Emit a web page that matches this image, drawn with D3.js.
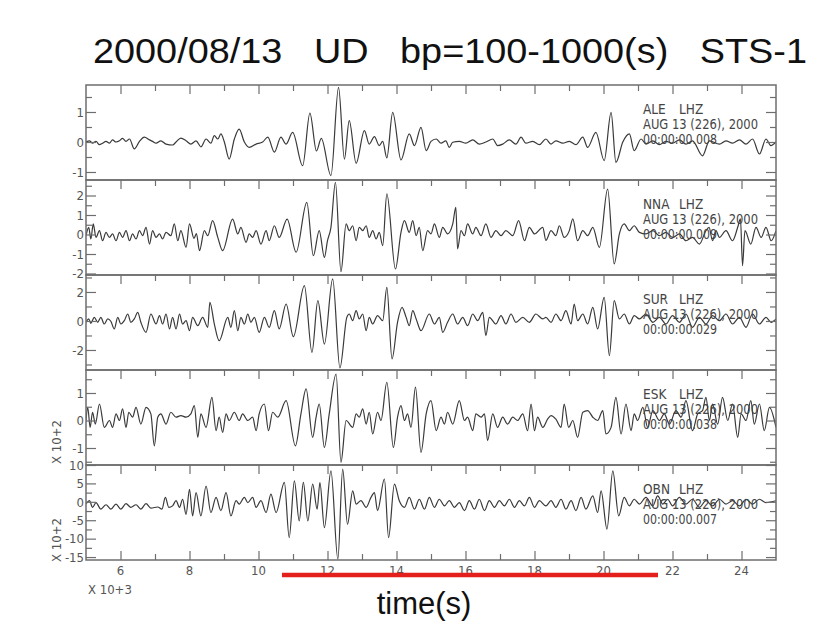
<!DOCTYPE html>
<html><head><meta charset="utf-8">
<script src="https://cdn.jsdelivr.net/npm/d3@7"></script>
<style>body{margin:0;background:#fff} svg{display:block}</style>
</head><body><svg id="c" width="830" height="632"></svg>
<script>
const titleText = "2000/08/13   UD   bp=100-1000(s)   STS-1";
const xLabel = "time(s)";
const xExponent = "X 10+3";
const xDomain = [5, 25];
const xLabelTicks = [6, 8, 10, 12, 14, 16, 18, 20, 22, 24];
const stations = ["ALE", "NNA", "SUR", "ESK", "OBN"];
const channel = "LHZ";
const dateText = "AUG 13 (226), 2000";
const startTimes = ["00:00:00.008", "00:00:00.009", "00:00:00.029", "00:00:00.038", "00:00:00.007"];
const yDomains = [[-1.267, 1.9], [-2.077, 2.795], [-3.38, 3.17], [-1.618, 1.836], [-15.8, 10]];
const yLabelTicks = [[-1, 0, 1], [-2, -1, 0, 1, 2], [-2, 0, 2], [-1, 0, 1], [-15, -10, -5, 0, 5, 10]];
const yMinorStep = [0.5, 0.5, 1, 0.5, 2.5];
const yExponent = [null, null, null, "X 10+2", "X 10+2"];
const redBar = [10.68, 21.58];

const aleTrace = [[5.00,0],[5.10,0.04],[5.19,-0.04],[5.29,0.02],[5.39,-0.09],[5.48,-0.04],[5.58,0.02],[5.68,-0.04],[5.77,0.07],[5.87,0],[5.97,0.04],[6.06,0.12],[6.16,0.02],[6.26,0.1],[6.40,-0.23],[6.55,0.02],[6.69,0.16],[6.84,0.07],[6.93,0.02],[7.03,-0.04],[7.17,0.04],[7.32,-0.07],[7.51,-0.1],[7.61,0],[7.75,0.13],[7.90,0.04],[8.04,-0.07],[8.19,0.04],[8.33,-0.16],[8.48,0.1],[8.62,-0.04],[8.72,0.21],[8.82,0.1],[8.91,0.27],[9.01,0],[9.15,-0.57],[9.30,0.1],[9.44,0.43],[9.59,0],[9.73,-0.18],[9.93,-0.07],[10.12,0],[10.27,0.16],[10.46,-0.34],[10.65,0.16],[10.80,-0.07],[10.99,0.32],[11.28,-0.79],[11.49,0.96],[11.68,-0.3],[11.82,0.12],[12.10,-1.12],[12.32,1.82],[12.49,-0.57],[12.63,0.71],[12.83,-0.71],[13.07,0.38],[13.21,-0.07],[13.36,0.18],[13.50,-0.12],[13.60,0.02],[13.72,-0.53],[13.89,0.99],[14.13,-0.6],[14.37,0.27],[14.52,-0.12],[14.71,0.49],[14.86,-0.29],[15.00,0.02],[15.15,0.1],[15.29,-0.04],[15.43,0.04],[15.53,-0.18],[15.63,-0.01],[15.82,0.02],[16.01,-0.04],[16.21,0.07],[16.40,-0.07],[16.59,0],[16.79,0.1],[16.93,-0.12],[17.08,-0.07],[17.27,0.07],[17.46,-0.07],[17.61,0.16],[17.75,-0.04],[17.95,0.02],[18.14,-0.09],[18.33,0.1],[18.48,-0.07],[18.62,0.04],[18.82,-0.04],[19.01,0.02],[19.20,-0.09],[19.40,0.16],[19.54,-0.18],[19.78,0.32],[20.02,-0.62],[20.22,0.99],[20.36,-0.68],[20.56,0],[20.75,0.27],[20.89,-0.29],[21.09,0.1],[21.23,-0.07],[21.43,0.04],[21.62,-0.09],[21.81,0.02],[22.00,-0.04],[22.20,0.07],[22.39,-0.07],[22.58,0.04],[22.87,-0.46],[23.07,0.04],[23.36,-0.07],[23.55,0.04],[23.74,-0.04],[23.94,0.07],[24.13,-0.07],[24.32,0.1],[24.52,-0.4],[24.71,0.1],[24.85,-0.12],[25.0,0]];

const nnaTrace = [[5.00,-0.06],[5.08,0.37],[5.14,-0.23],[5.21,0.54],[5.29,-0.15],[5.39,0.2],[5.48,-0.32],[5.58,0.11],[5.68,-0.15],[5.77,0.03],[5.87,-0.32],[5.97,0.11],[6.06,-0.15],[6.16,0.2],[6.26,-0.32],[6.35,0.03],[6.45,-0.23],[6.55,0.2],[6.64,-0.06],[6.74,0.37],[6.84,-0.49],[6.93,0.2],[7.03,-0.15],[7.13,0.03],[7.22,-0.23],[7.32,0.11],[7.46,-0.06],[7.56,0.54],[7.66,-0.32],[7.75,0.2],[7.90,-0.66],[8.00,0.54],[8.13,-0.2],[8.20,0.05],[8.29,-0.83],[8.43,0.2],[8.53,-0.06],[8.67,0.71],[8.82,-0.15],[8.96,-0.83],[9.25,0.79],[9.40,0.03],[9.49,0.37],[9.64,-0.4],[9.73,0.03],[9.83,-0.15],[9.93,0.2],[10.07,-0.49],[10.22,0.2],[10.31,-0.32],[10.46,0.45],[10.60,-0.15],[10.83,0.79],[11.09,-0.91],[11.40,1.65],[11.59,-1.09],[11.76,0.2],[11.91,-1.17],[12.00,-0.32],[12.10,0.37],[12.23,2.68],[12.39,-1.91],[12.54,0.54],[12.63,0.2],[12.73,0.45],[12.83,-0.32],[12.92,0.37],[13.02,0.2],[13.12,0.45],[13.21,-0.15],[13.31,0.2],[13.41,-0.23],[13.50,0.11],[13.60,-0.57],[13.72,2.08],[13.97,-1.77],[14.13,0.11],[14.23,0.71],[14.37,0.11],[14.47,0.71],[14.57,-0.06],[14.66,0.37],[14.76,-0.83],[14.90,0.2],[15.00,0.03],[15.10,0.54],[15.24,-0.15],[15.34,0.37],[15.48,0.03],[15.63,0.54],[15.72,1.39],[15.77,-0.74],[15.87,0.2],[15.97,-0.06],[16.06,0.54],[16.21,0.03],[16.30,0.37],[16.45,-0.06],[16.59,0.54],[16.74,-0.15],[16.88,0.2],[17.03,-0.06],[17.17,0.2],[17.37,-0.06],[17.54,0.71],[17.71,-0.32],[17.85,0.37],[18.00,0.03],[18.24,0.37],[18.33,-0.3],[18.48,0.2],[18.62,-0.06],[18.72,0.45],[18.86,-0.15],[19.01,0.2],[19.11,0.8],[19.25,-0.32],[19.40,0.2],[19.54,-0.06],[19.69,0.37],[19.88,-0.66],[20.12,2.33],[20.31,-1.51],[20.46,0.03],[20.60,0.54],[20.75,0.2],[20.89,0.45],[21.04,0.11],[21.23,0.03],[21.43,0.2],[21.62,-0.06],[21.81,0.11],[22.00,-0.15],[22.20,0.03],[22.39,-0.32],[22.58,-0.15],[22.78,-0.49],[22.97,0.2],[23.06,0.37],[23.16,-0.32],[23.26,0.2],[23.36,-0.15],[23.55,0.2],[23.74,-0.32],[23.89,0.37],[23.97,0.8],[24.03,-1.6],[24.10,0.2],[24.27,-0.49],[24.42,0.37],[24.57,-0.15],[24.71,0.37],[24.86,-0.32],[25.0,0.2]];

const surTrace = [[5.00,-0.09],[5.08,0.14],[5.14,-0.16],[5.24,0.25],[5.34,-0.09],[5.43,0.25],[5.53,-0.21],[5.63,0.14],[5.72,-0.02],[5.82,-0.55],[5.92,0.25],[6.01,-0.21],[6.11,0.02],[6.21,0.48],[6.30,-0.09],[6.40,0.14],[6.50,0.6],[6.59,-0.09],[6.74,-0.78],[6.88,0.48],[7.03,-0.21],[7.13,0.37],[7.22,-0.21],[7.32,0.48],[7.42,-0.55],[7.51,0.25],[7.61,-0.55],[7.71,0.48],[7.80,-0.21],[7.90,0.02],[8.00,-0.67],[8.09,0.25],[8.24,-0.32],[8.38,0.25],[8.53,-0.44],[8.59,1.29],[8.72,-0.21],[8.86,-1.36],[9.11,0.25],[9.20,-0.44],[9.30,0.71],[9.40,-0.67],[9.49,0.25],[9.59,-0.21],[9.69,0.48],[9.78,-0.09],[9.88,0.25],[10.02,-0.78],[10.17,0.25],[10.31,-0.44],[10.46,0.71],[10.60,-0.55],[10.80,1.17],[11.01,-1.08],[11.33,2.44],[11.55,-2.16],[11.72,1.4],[11.91,-1.59],[12.15,2.9],[12.36,-3.24],[12.56,0.25],[12.63,0.48],[12.73,0.02],[12.83,0.71],[12.92,0.14],[13.02,0.48],[13.12,-0.67],[13.21,0.25],[13.31,-0.21],[13.45,0.37],[13.60,0.02],[13.72,2.32],[13.87,-2.62],[14.03,-0.09],[14.16,0.94],[14.28,0.25],[14.37,-0.32],[14.47,0.71],[14.57,0.14],[14.71,-0.67],[14.95,0.48],[15.10,-0.21],[15.24,0.25],[15.34,-0.78],[15.48,-0.09],[15.63,0.48],[15.77,-0.21],[15.92,0.25],[16.06,-0.32],[16.21,0.48],[16.35,0.02],[16.50,0.6],[16.59,-1.01],[16.69,0.25],[16.88,-0.21],[17.03,0.37],[17.17,-0.21],[17.32,0.48],[17.46,-0.09],[17.66,0.25],[17.85,-0.09],[18.04,0.48],[18.24,0.14],[18.33,0.25],[18.48,-0.09],[18.62,0.48],[18.77,0.02],[18.91,0.71],[19.06,-0.21],[19.15,1.17],[19.25,0.02],[19.40,0.48],[19.54,-0.21],[19.69,0.94],[19.83,-0.55],[20.02,1.63],[20.17,-2.39],[20.31,1.4],[20.46,0.14],[20.60,0.48],[20.75,-0.21],[20.89,0.37],[21.04,0.14],[21.23,0.48],[21.43,-0.09],[21.62,0.25],[21.81,-0.21],[22.00,0.37],[22.20,-0.09],[22.39,0.48],[22.58,-0.44],[22.78,0.25],[22.97,-0.21],[23.16,0.37],[23.36,0.02],[23.55,0.48],[23.74,-0.21],[23.94,0.25],[24.13,-0.44],[24.32,0.48],[24.52,-0.21],[24.71,0.25],[24.86,-0.09],[25.0,0.14]];

const eskTrace = [[5.00,0],[5.05,0.48],[5.12,-0.25],[5.19,0.3],[5.27,-0.13],[5.39,0.6],[5.53,-0.25],[5.68,0],[5.77,-0.25],[5.87,0.24],[5.97,0],[6.06,0.42],[6.16,-0.25],[6.24,0.3],[6.35,0.12],[6.45,0.48],[6.59,-0.13],[6.74,0.48],[6.88,0.24],[6.98,-0.92],[7.08,0.12],[7.17,0.24],[7.32,-0.13],[7.46,0.3],[7.61,0.12],[7.75,0.18],[7.90,0.12],[8.04,0.24],[8.14,0.54],[8.24,-0.61],[8.33,0.24],[8.48,-0.25],[8.65,0.84],[8.77,-0.37],[8.86,0.12],[8.96,-0.43],[9.06,0.24],[9.15,0],[9.30,0.3],[9.44,0],[9.54,0.24],[9.69,0],[9.83,0.12],[9.93,-0.37],[10.02,0.24],[10.17,0.6],[10.29,-0.37],[10.41,0.3],[10.56,0.12],[10.80,0.72],[11.07,-0.92],[11.23,0.24],[11.38,1.15],[11.57,-0.61],[11.67,0.12],[11.76,0.6],[11.91,-0.98],[12.05,0.24],[12.25,1.69],[12.39,-1.52],[12.54,0],[12.73,-0.25],[12.83,0.24],[12.92,0.12],[13.02,0.42],[13.12,-0.13],[13.21,0.3],[13.31,-0.49],[13.45,0.3],[13.55,0],[13.72,1.39],[13.91,-0.98],[14.03,0.12],[14.13,0.54],[14.23,0],[14.32,0.24],[14.42,-0.25],[14.55,1.21],[14.71,-1.16],[14.86,0.24],[15.00,0.72],[15.15,-0.37],[15.29,0.12],[15.39,-0.13],[15.48,0.3],[15.63,-0.13],[15.82,0.72],[15.97,0],[16.06,0.12],[16.21,-0.37],[16.30,0.24],[16.45,0.12],[16.55,0.24],[16.64,-0.73],[16.79,0.24],[16.93,-0.25],[17.08,0.12],[17.22,-0.13],[17.37,0.12],[17.51,0],[17.66,0.24],[17.80,-0.37],[17.90,0.6],[18.00,-0.37],[18.09,0.12],[18.24,-0.25],[18.38,0.05],[18.48,0.18],[18.62,0.05],[18.77,-0.25],[18.86,0.6],[18.99,-0.25],[19.11,0],[19.25,-0.61],[19.40,0.3],[19.54,0.36],[19.69,0.12],[19.83,0],[19.98,0.36],[20.07,-0.49],[20.22,-0.25],[20.36,0.84],[20.51,-0.49],[20.65,0.6],[20.80,-0.37],[20.89,0.24],[20.99,0],[21.14,0.48],[21.28,-0.25],[21.43,0.36],[21.62,0],[21.76,0.24],[21.91,-0.13],[22.10,0.36],[22.25,0.12],[22.39,0.72],[22.58,-0.37],[22.73,0.24],[22.87,0.36],[22.97,0.84],[23.07,0],[23.16,0.6],[23.31,-0.13],[23.45,0.84],[23.60,0],[23.74,0.6],[23.89,-0.61],[23.99,0.24],[24.13,0],[24.27,0.72],[24.37,-0.13],[24.52,0.6],[24.66,-0.37],[24.81,0.48],[25.0,-0.25]];

const obnTrace = [[5.00,-0.6],[5.10,0.3],[5.19,-1.5],[5.29,-0.2],[5.43,-2.0],[5.58,-0.8],[5.72,-2.0],[5.87,-0.6],[6.01,-2.0],[6.16,-0.5],[6.30,-1.5],[6.45,-0.8],[6.59,-2.0],[6.74,-0.5],[6.88,-1.7],[7.08,-1.4],[7.20,-2.0],[7.30,1.2],[7.40,-1.5],[7.51,-1.1],[7.61,0.3],[7.71,-1.5],[7.80,0.7],[7.90,-3.4],[8.00,3.4],[8.09,-3.8],[8.19,2.5],[8.33,-3.8],[8.48,4.3],[8.62,-2.9],[8.77,1.2],[8.91,-2.4],[9.06,2.5],[9.20,-3.8],[9.35,0.3],[9.44,-0.6],[9.59,1.2],[9.69,-0.2],[9.83,1.2],[9.93,-1.5],[10.07,0.3],[10.22,-2.9],[10.36,2.1],[10.51,-2.9],[10.75,5.3],[10.89,-9.7],[11.04,5.7],[11.18,-5.2],[11.30,5.3],[11.43,-5.2],[11.57,4.8],[11.70,-2.0],[11.78,5.2],[11.91,-7.0],[12.10,8.4],[12.30,-15.6],[12.44,8.9],[12.58,-6.1],[12.73,3.0],[12.83,-0.6],[12.97,0.3],[13.12,-1.5],[13.26,1.2],[13.36,2.5],[13.45,-2.4],[13.65,6.2],[13.77,-9.7],[13.94,4.8],[14.08,0.3],[14.23,-1.5],[14.37,1.2],[14.52,-2.0],[14.66,0.7],[14.81,-2.0],[14.95,1.2],[15.10,-1.5],[15.24,0.7],[15.39,-1.1],[15.53,0.3],[15.68,-1.5],[15.82,-0.2],[15.97,-2.4],[16.11,0.3],[16.26,-2.0],[16.40,0.7],[16.55,-2.4],[16.69,0.3],[16.84,-1.5],[16.98,0.3],[17.13,-1.1],[17.27,0.7],[17.42,-1.5],[17.56,0.3],[17.71,-1.1],[17.85,1.2],[18.00,-1.5],[18.14,0.3],[18.33,-1.1],[18.48,0.3],[18.62,-1.5],[18.77,0.7],[18.91,-2.0],[19.06,0.3],[19.20,-2.4],[19.35,1.2],[19.49,-2.0],[19.69,1.6],[19.83,-2.9],[19.93,3.0],[20.10,-7.4],[20.27,8.4],[20.44,-3.8],[20.60,1.2],[20.75,-1.1],[20.89,0.7],[21.04,-0.6],[21.23,1.2],[21.43,-1.1],[21.57,1.6],[21.72,-0.6],[21.86,0.7],[22.00,-1.1],[22.20,1.2],[22.39,-0.6],[22.58,0.7],[22.78,-1.5],[22.97,0.3],[23.16,-1.1],[23.36,0.7],[23.55,-0.6],[23.74,0.3],[23.94,-1.1],[24.13,0.7],[24.32,-0.6],[24.52,0.7],[24.71,-0.2],[25.0,0.3]];

const traces = [aleTrace, nnaTrace, surTrace, eskTrace, obnTrace];

// ---------- layout ----------
const W = 830, H = 632;
const left = 86, right = 776, top0 = 85, panelH = 95;
const axisColor = "#6e6e6e", textColor = "#555", lineColor = "#3a3a3a";
const smallFont = "'Liberation Sans Narrow','DejaVu Sans Condensed','DejaVu Sans',sans-serif";
const bigFont = "'Liberation Sans',Arial,sans-serif";

const svg = d3.select("#c");
svg.append("rect").attr("width", W).attr("height", H).attr("fill", "#fff");

const x = d3.scaleLinear().domain(xDomain).range([left, right]);

svg.append("text").attr("x", 93).attr("y", 63)
  .attr("font-family", bigFont).attr("font-size", 35).attr("fill", "#111")
  .attr("textLength", 714).attr("lengthAdjust", "spacingAndGlyphs")
  .style("white-space", "pre").text(titleText);

const defs = svg.append("defs");
const allInts = d3.range(6, 25);
const evenInts = allInts.filter(d => d % 2 === 0);
const oddInts = allInts.filter(d => d % 2 !== 0);

function cleanAxis(g) {
  g.select(".domain").remove();
  g.selectAll("line").attr("stroke", axisColor).attr("stroke-width", 1.2);
  g.selectAll("text").remove();
}

stations.forEach((st, i) => {
  const y0 = top0 + i * panelH;
  const y = d3.scaleLinear().domain(yDomains[i]).range([y0 + panelH, y0]);
  const g = svg.append("g");

  defs.append("clipPath").attr("id", "clip" + i).append("rect")
    .attr("x", left).attr("y", y0).attr("width", right - left).attr("height", panelH);

  const line = d3.line().x(d => x(d[0])).y(d => y(d[1])).curve(d3.curveMonotoneX);
  g.append("path").datum(traces[i]).attr("d", line)
    .attr("fill", "none").attr("stroke", lineColor).attr("stroke-width", 1.2)
    .attr("clip-path", "url(#clip" + i + ")");

  g.append("g").attr("transform", `translate(0,${y0})`)
    .call(d3.axisBottom(x).tickValues(evenInts).tickSize(9)).call(cleanAxis);
  g.append("g").attr("transform", `translate(0,${y0})`)
    .call(d3.axisBottom(x).tickValues(oddInts).tickSize(6)).call(cleanAxis);

  const [lo, hi] = yDomains[i];
  const step = yMinorStep[i];
  const minor = d3.range(Math.ceil(lo / step) * step, hi + 1e-9, step)
    .filter(v => !yLabelTicks[i].includes(v) && y(v) > y0 + 2 && y(v) < y0 + panelH - 1);
  const major = yLabelTicks[i];
  [[major, 10], [minor, 6]].forEach(([vals, len]) => {
    g.append("g").attr("transform", `translate(${left},0)`)
      .call(d3.axisRight(y).tickValues(vals).tickSize(len)).call(cleanAxis);
    g.append("g").attr("transform", `translate(${right},0)`)
      .call(d3.axisLeft(y).tickValues(vals).tickSize(len)).call(cleanAxis);
  });

  g.selectAll(".ylab").data(major).enter().append("text")
    .attr("x", left - 2).attr("y", d => y(d)).attr("dy", "0.36em")
    .attr("text-anchor", "end").attr("font-family", smallFont).attr("font-size", 13)
    .attr("fill", textColor).text(d => d < 0 ? "-" + Math.abs(d) : d);

  if (yExponent[i]) {
    const cy = i === 3 ? y0 + 72 : y0 + 75;
    g.append("text").attr("transform", `translate(61,${cy}) rotate(-90)`)
      .attr("text-anchor", "middle").attr("font-family", smallFont).attr("font-size", 13)
      .attr("fill", textColor).style("white-space", "pre").text(yExponent[i]);
  }

  g.append("rect").attr("x", left).attr("y", y0).attr("width", right - left).attr("height", panelH)
    .attr("fill", "none").attr("stroke", axisColor).attr("stroke-width", 1.5);

  const ann = g.append("g").attr("font-family", smallFont).attr("font-size", 13.5).attr("fill", "#444");
  ann.append("text").attr("x", 643).attr("y", y0 + 29).text(st);
  ann.append("text").attr("x", 679).attr("y", y0 + 29).text(channel);
  ann.append("text").attr("x", 643).attr("y", y0 + 44).attr("textLength", 115).attr("lengthAdjust", "spacingAndGlyphs").text(dateText);
  ann.append("text").attr("x", 643).attr("y", y0 + 59).attr("textLength", 74).attr("lengthAdjust", "spacingAndGlyphs").text(startTimes[i]);
});

const yb = top0 + stations.length * panelH;
svg.append("g").attr("transform", `translate(0,${yb})`)
  .call(d3.axisTop(x).tickValues(evenInts).tickSize(9)).call(cleanAxis);
svg.append("g").attr("transform", `translate(0,${yb})`)
  .call(d3.axisTop(x).tickValues(oddInts).tickSize(6)).call(cleanAxis);

svg.selectAll(".xlab").data(xLabelTicks).enter().append("text")
  .attr("x", d => x(d)).attr("y", yb + 15).attr("text-anchor", "middle")
  .attr("font-family", smallFont).attr("font-size", 13).attr("fill", textColor).text(d => d);

svg.append("text").attr("x", 88).attr("y", yb + 34)
  .attr("font-family", smallFont).attr("font-size", 13).attr("fill", textColor)
  .style("white-space", "pre").text(xExponent);

svg.append("line").attr("x1", x(redBar[0])).attr("x2", x(redBar[1]))
  .attr("y1", yb + 15).attr("y2", yb + 15)
  .attr("stroke", "#e3201b").attr("stroke-width", 4.5);

svg.append("text").attr("x", 424).attr("y", 614).attr("text-anchor", "middle")
  .attr("font-family", bigFont).attr("font-size", 31).attr("fill", "#111").text(xLabel);
</script></body></html>
